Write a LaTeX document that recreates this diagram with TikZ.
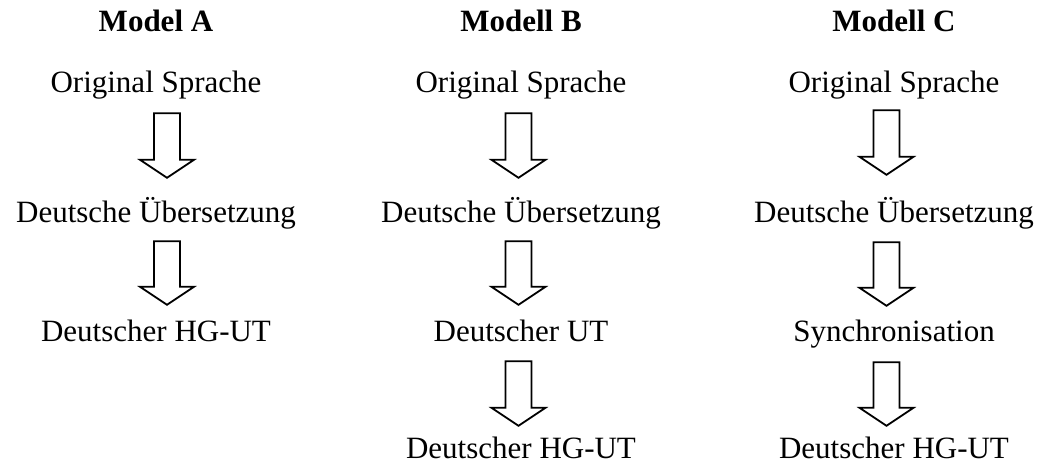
\documentclass[tikz,border=0pt]{standalone}
\usepackage{fontspec}
\setmainfont{Liberation Serif}
\usetikzlibrary{calc}

\begin{document}
\begin{tikzpicture}[x=1pt, y=1pt,
    txt/.style={anchor=base, inner sep=0pt, text height=22pt, text depth=7pt,
      font=\fontsize{31}{36}\selectfont},
    ttl/.style={txt, font=\fontsize{31}{36}\selectfont\bfseries},
    blockarrow/.style={draw, black, line width=1.8pt, line join=miter,
      to path={($(\tikztostart)+(-13,0)$) -- ($(\tikztotarget)+(-13,18)$)
        -- ($(\tikztotarget)+(-27,18)$) -- (\tikztotarget)
        -- ($(\tikztotarget)+(27,18)$) -- ($(\tikztotarget)+(13,18)$)
        -- ($(\tikztostart)+(13,0)$) -- cycle}}]
  \useasboundingbox (0,0) rectangle (1043,-465);

  \node[ttl] (titleA) at (156,-32) {Model A};
  \node[txt] (origA) at (156,-93) {Original Sprache};
  \node[txt] (uebA) at (156,-222) {Deutsche Übersetzung};
  \node[txt] (hgutA) at (156,-341) {Deutscher HG-UT};

  \node[ttl] (titleB) at (521,-32) {Modell B};
  \node[txt] (origB) at (521,-93) {Original Sprache};
  \node[txt] (uebB) at (521,-222) {Deutsche Übersetzung};
  \node[txt] (utB) at (521,-341) {Deutscher UT};
  \node[txt] (hgutB) at (521,-458) {Deutscher HG-UT};

  \node[ttl] (titleC) at (894,-32) {Modell C};
  \node[txt] (origC) at (894,-93) {Original Sprache};
  \node[txt] (uebC) at (894,-222) {Deutsche Übersetzung};
  \node[txt] (syncC) at (894,-341) {Synchronisation};
  \node[txt] (hgutC) at (894,-458) {Deutscher HG-UT};

  \draw[blockarrow] ([xshift=11pt,yshift=-13pt]origA.south) to ([xshift=11pt,yshift=22pt]uebA.north);
  \draw[blockarrow] ([xshift=11pt,yshift=-12pt]uebA.south) to ([xshift=11pt,yshift=14pt]hgutA.north);

  \draw[blockarrow] ([xshift=-2.5pt,yshift=-13pt]origB.south) to ([xshift=-2.5pt,yshift=22pt]uebB.north);
  \draw[blockarrow] ([xshift=-2.5pt,yshift=-12pt]uebB.south) to ([xshift=-2.5pt,yshift=14pt]utB.north);
  \draw[blockarrow] ([xshift=-2.5pt,yshift=-13pt]utB.south) to ([xshift=-2.5pt,yshift=10pt]hgutB.north);

  \draw[blockarrow] ([xshift=-7.5pt,yshift=-10pt]origC.south) to ([xshift=-7.5pt,yshift=25pt]uebC.north);
  \draw[blockarrow] ([xshift=-7.5pt,yshift=-13pt]uebC.south) to ([xshift=-7.5pt,yshift=13pt]syncC.north);
  \draw[blockarrow] ([xshift=-7.5pt,yshift=-14pt]syncC.south) to ([xshift=-7.5pt,yshift=10pt]hgutC.north);
\end{tikzpicture}
\end{document}
